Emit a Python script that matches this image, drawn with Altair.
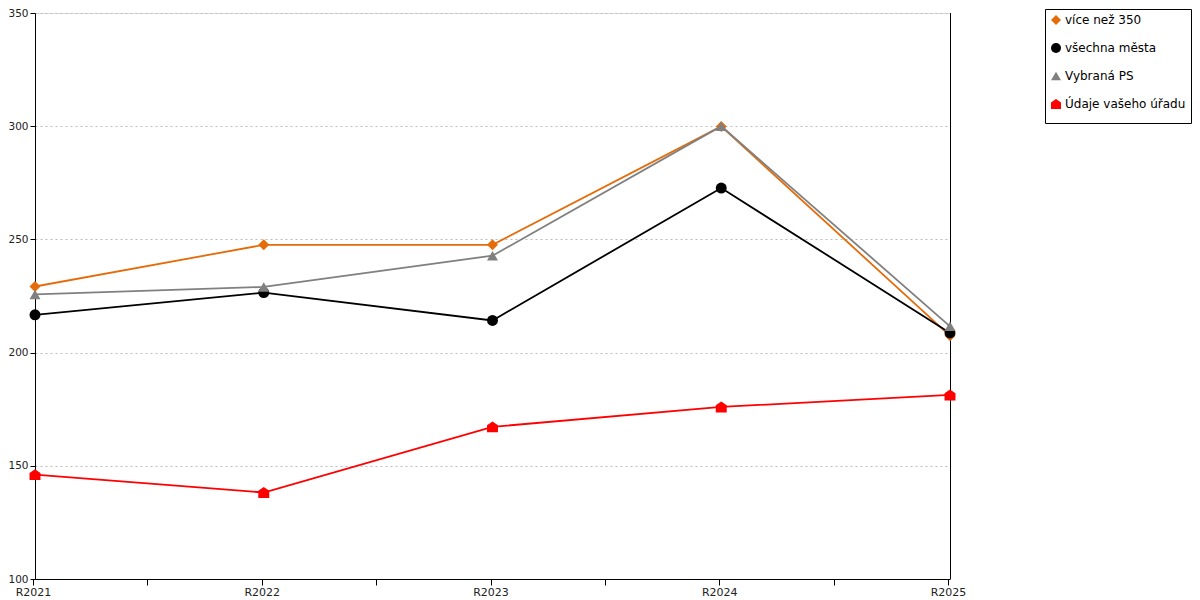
import altair as alt
import pandas as pd

categories = ["R2021", "R2022", "R2023", "R2024", "R2025"]
series_names = ["více než 350", "všechna města", "Vybraná PS", "Údaje vašeho úřadu"]
vice_nez_350 = [229.2, 247.6, 247.6, 299.9, 207.4]
vsechna_mesta = [216.7, 226.5, 214.2, 272.7, 208.7]
vybrana_ps = [225.7, 229.0, 242.8, 300.0, 211.6]
udaje_uradu = [146.1, 138.2, 167.2, 176.0, 181.3]
y_ticks = [100, 150, 200, 250, 300, 350]

colors = ["#E46C0A", "#000000", "#808080", "#FF0000"]
house = "M-1,1L1,1L1,-0.3L0,-1L-1,-0.3Z"
shapes = ["diamond", "circle", "triangle-up", house]

rows = []
for name, vals in zip(series_names, [vice_nez_350, vsechna_mesta, vybrana_ps, udaje_uradu]):
    for i, (c, v) in enumerate(zip(categories, vals)):
        rows.append({"series": name, "cat": c, "idx": i, "value": v})
df = pd.DataFrame(rows)

FONT = "DejaVu Sans"
label_arr = "[" + ",".join("'" + c + "'" for c in categories) + "]"

W, H = 915, 566
TOP = 5
LEFT = 27

x_enc = alt.X(
    "idx:Q",
    scale=alt.Scale(domain=[0, len(categories) - 1], nice=False, zero=False),
    axis=alt.Axis(
        title=None,
        values=[i / 2 for i in range(2 * (len(categories) - 1) + 1)],
        labelExpr=f"datum.value % 1 == 0 ? {label_arr}[datum.value] : ''",
        grid=False,
        domainColor="black",
        tickColor="black",
        tickSize=6,
        tickOffset=-2,
        labelFont=FONT,
        labelFontSize=11,
        labelColor="#222",
        labelPadding=1,
        labelFlush=False,
        labelOverlap=False,
    ),
)
y_enc = alt.Y(
    "value:Q",
    scale=alt.Scale(domain=[100, 350], nice=False, zero=False),
    axis=alt.Axis(
        title=None,
        values=y_ticks,
        grid=True,
        gridColor="#bbbbbb",
        gridDash=[2, 3],
        gridWidth=1,
        domainColor="black",
        tickColor="black",
        tickSize=5,
        labelFont=FONT,
        labelFontSize=10.5,
        labelColor="#222",
        labelPadding=2,
    ),
)
color_enc = alt.Color(
    "series:N",
    scale=alt.Scale(domain=series_names, range=colors),
    legend=alt.Legend(
        title=" ",
        titleOrient="bottom",
        titleFontSize=8,
        titlePadding=0,
        orient="none",
        legendX=1045 - (8 + LEFT),
        legendY=9 - (8 + TOP),
        strokeColor="black",
        fillColor="white",
        padding=5,
        rowPadding=16,
        labelFont=FONT,
        labelFontSize=12,
        labelColor="#000",
        symbolSize=100,
        symbolStrokeWidth=0,
        labelOffset=3,
        symbolOpacity=1,
    ),
)
shape_enc = alt.Shape(
    "series:N",
    scale=alt.Scale(domain=series_names, range=shapes),
)

right_line = alt.Chart(pd.DataFrame({"a": [0]})).mark_rule(color="black", strokeWidth=1).encode(
    x=alt.value(W + 0.5), y=alt.value(0), y2=alt.value(H)
)

layers = []
for name in series_names:
    sub = df[df.series == name]
    layers.append(alt.Chart(sub).mark_line(strokeWidth=1.8).encode(
        x=x_enc, y=y_enc, color=color_enc,
    ))
    layers.append(alt.Chart(sub).mark_point(filled=True, size=120, opacity=1).encode(
        x=x_enc, y=y_enc, color=color_enc, shape=shape_enc,
    ))

chart = alt.layer(right_line, *layers).properties(
    width=W,
    height=H,
    autosize=alt.AutoSizeParams(type="none"),
    padding={"left": LEFT, "top": TOP, "right": 1184 - LEFT - W, "bottom": 20},
).configure_view(stroke=None).configure(background="white")

chart.save("out.html", embed_options={"renderer": "svg", "actions": False})
